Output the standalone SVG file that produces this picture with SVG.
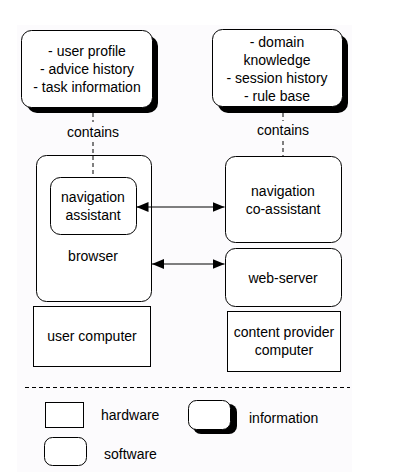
<svg xmlns="http://www.w3.org/2000/svg" width="416" height="475" viewBox="0 0 416 475">
<style>
text{font-family:"Liberation Sans",Arial,sans-serif;font-size:14px;fill:#000;text-anchor:middle}
.l{text-anchor:start}
.b{fill:#fff;stroke:#000;stroke-width:1}
.sh{fill:#000;stroke:none}
.d{stroke:#000;stroke-width:1;stroke-dasharray:4 3;fill:none}
.c{stroke:#000;stroke-width:1;fill:none}
</style>
<defs>
<marker id="ah" viewBox="0 0 12 10" refX="12" refY="5" markerWidth="12" markerHeight="10" markerUnits="userSpaceOnUse" orient="auto-start-reverse">
<path d="M0,0 L12,5 L0,10 Z" fill="#000"/>
</marker>
</defs>
<rect width="416" height="475" fill="#fff"/>
<rect x="17" y="25" width="335" height="447" fill="#fcfbfd"/>
<g id="info1">
<rect class="sh" x="27" y="36" width="131" height="77" rx="10"/>
<rect class="b" x="21.5" y="30.5" width="131" height="77" rx="10"/>
<text x="87" y="56">- user profile</text>
<text x="87" y="74">- advice history</text>
<text x="87" y="92">- task information</text>
</g>
<g id="info2">
<rect class="sh" x="218" y="35" width="130" height="78" rx="10"/>
<rect class="b" x="212.5" y="29.5" width="130" height="77" rx="10"/>
<text x="277" y="47">- domain</text>
<text x="277" y="65">knowledge</text>
<text x="277" y="83">- session history</text>
<text x="277" y="101">- rule base</text>
</g>
<g id="browser">
<rect class="b" x="36.5" y="155.5" width="115" height="146" rx="10"/>
<text x="93" y="261">browser</text>
</g>
<g id="nav-assistant">
<rect class="b" x="50.5" y="177.5" width="86" height="57" rx="10"/>
<text x="93" y="202">navigation</text>
<text x="93" y="220">assistant</text>
</g>
<g id="nav-co-assistant">
<rect class="b" x="225.5" y="156.5" width="116" height="86" rx="10"/>
<text x="283" y="196">navigation</text>
<text x="283" y="214">co-assistant</text>
</g>
<g id="web-server">
<rect class="b" x="225.5" y="248.5" width="116" height="58" rx="10"/>
<text x="283" y="283">web-server</text>
</g>
<g id="user-computer">
<rect class="b" x="33.5" y="306.5" width="117" height="60"/>
<text x="92" y="341">user computer</text>
</g>
<g id="content-provider-computer">
<rect class="b" x="227.5" y="311.5" width="113" height="60"/>
<text x="284" y="337">content provider</text>
<text x="284" y="355">computer</text>
</g>
<g id="connectors">
<line class="d" x1="93" y1="113" x2="93" y2="122"/>
<line class="d" x1="93" y1="142" x2="93" y2="177"/>
<line class="d" x1="283" y1="113" x2="283" y2="121"/>
<line class="d" x1="283" y1="141" x2="283" y2="156"/>
<text x="93" y="137">contains</text>
<text x="283" y="135">contains</text>
<line class="c" x1="136.5" y1="207" x2="224.5" y2="207" marker-start="url(#ah)" marker-end="url(#ah)"/>
<line class="c" x1="152" y1="264" x2="224.5" y2="264" marker-start="url(#ah)" marker-end="url(#ah)"/>
</g>
<line class="d" x1="25" y1="387.5" x2="350" y2="387.5"/>
<g id="legend-hardware">
<rect class="b" x="45.5" y="402.5" width="38" height="25"/>
<text class="l" x="101" y="420">hardware</text>
</g>
<g id="legend-information">
<rect class="sh" x="193" y="404" width="44" height="30" rx="8"/>
<rect class="b" x="188.5" y="400.5" width="42" height="29" rx="8"/>
<text class="l" x="249" y="423">information</text>
</g>
<g id="legend-software">
<rect class="b" x="44.5" y="437.5" width="42" height="28" rx="8"/>
<text class="l" x="104" y="459">software</text>
</g>
</svg>
